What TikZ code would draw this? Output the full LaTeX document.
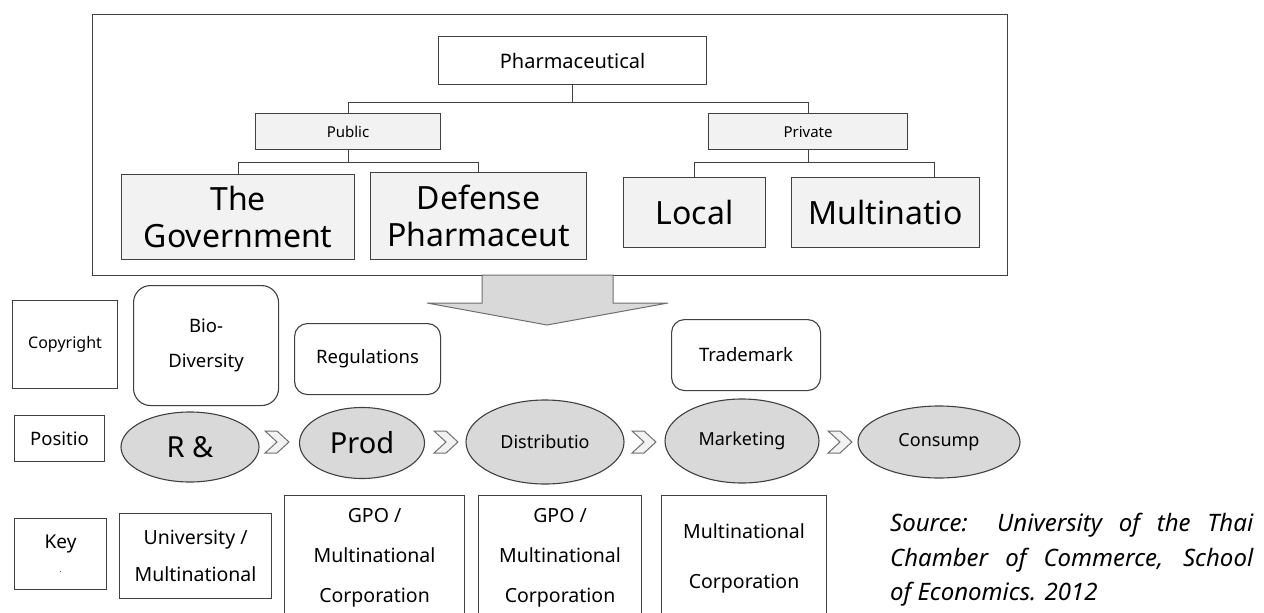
\documentclass[tikz,border=0pt]{standalone}
\usepackage{fontspec}
\setmainfont{Noto Sans}
\usetikzlibrary{shapes.geometric,calc}
\definecolor{bd}{HTML}{404040}
\definecolor{lg}{HTML}{F2F2F2}
\definecolor{eg}{HTML}{D9D9D9}
\definecolor{ag}{HTML}{6F6F6F}
\newcommand{\fsz}[2]{\fontsize{#1}{#2}\selectfont}
\begin{document}
\begin{tikzpicture}[x=1pt,y=-1pt,
  sqbox/.style={draw=bd, line width=1.1pt, fill=white, inner sep=0pt, anchor=north west, align=center},
  grbox/.style={sqbox, fill=lg},
  rbox/.style={sqbox, rounded corners=13pt},
  oval/.style={ellipse, draw=bd, line width=1.1pt, fill=eg, inner sep=0pt, align=center},
  conn/.style={draw=bd, line width=1.1pt},
  chev/.style={draw=ag, fill=lg, line width=1pt, line join=miter},
  srcline/.style={anchor=base west, inner sep=0pt, font=\fsz{24}{28}\itshape}
]
\useasboundingbox (0,0) rectangle (1264,613);

% outer frame
\node[sqbox, line width=1.3pt, minimum width=915, minimum height=261] (frame) at (92,14) {};

% top hierarchy
\node[sqbox, minimum width=268, minimum height=48, font=\fsz{20}{24}] (ph) at (438,36) {Pharmaceutical};
\node[grbox, minimum width=185, minimum height=36, font=\fsz{15}{18}] (pub) at (255,113) {Public};
\node[grbox, minimum width=199, minimum height=36, font=\fsz{15}{18}] (priv) at (708,113) {Private};
\node[grbox, minimum width=233, minimum height=85, font=\fsz{32}{37}] (gov) at (121,174) {The\\Government};
\node[grbox, minimum width=216, minimum height=87, font=\fsz{32}{37}] (def) at (370,172) {Defense\\Pharmaceut};
\node[grbox, minimum width=142, minimum height=70, font=\fsz{32}{37}] (loc) at (623,177) {Local};
\node[grbox, minimum width=188, minimum height=70, font=\fsz{32}{37}] (mul) at (791,177) {Multinatio};

\draw[conn] (ph.south) -- ++(0,17) -| (pub.north);
\draw[conn] (ph.south) -- ++(0,17) -| (priv.north);
\draw[conn] (pub.south) -- ++(0,12) -| (gov.north);
\draw[conn] (pub.south) -- ++(0,12) -| (def.north);
\draw[conn] (priv.south) -- ++(0,12) -| (loc.north);
\draw[conn] (priv.south) -- ++(0,12) -| ([xshift=49pt]mul.north);

% big arrow
\draw[draw=ag, fill=eg, line width=1pt] (482,275) -- (613,275) -- (613,303) -- (668,303) -- (547,325) -- (427,303) -- (482,303) -- cycle;

% upper row
\node[sqbox, minimum width=105, minimum height=88, font=\fsz{16}{19}] (copy) at (12,300) {Copyright};
\node[rbox, rounded corners=17pt, minimum width=145, minimum height=120, font=\fsz{18.5}{35}] (bio) at (133,285) {Bio-\\Diversity};
\node[rbox, minimum width=146, minimum height=71, font=\fsz{18.5}{22}] (reg) at (294,323) {Regulations};
\node[rbox, minimum width=149, minimum height=71, font=\fsz{18.5}{22}] (trade) at (671,319) {Trademark};

% chain row
\node[sqbox, minimum width=90, minimum height=46, font=\fsz{18.5}{22}] (pos) at (14,415) {Positio};
\node[oval, minimum width=138, minimum height=70, font=\fsz{29}{34}] (rd) at (190,447) {R \&};
\node[oval, minimum width=125, minimum height=71, font=\fsz{29}{34}] (prod) at (362,443) {Prod};
\node[oval, minimum width=158, minimum height=84, font=\fsz{18}{22}] (dist) at (545,442) {Distributio};
\node[oval, minimum width=154, minimum height=84, font=\fsz{18}{22}] (mark) at (742,441) {Marketing};
\node[oval, minimum width=162, minimum height=72, font=\fsz{18}{22}] (cons) at (939,442) {Consump};

\foreach \cx in {277,446,644,840}{
  \draw[chev] (\cx-12,431) -- (\cx,431) -- (\cx+12,442) -- (\cx,453) -- (\cx-12,453) -- (\cx,442) -- cycle;
}

% key row
\node[sqbox, minimum width=92, minimum height=71, font=\fsz{19}{30}] (key) at (14,518) {Key\\[-6pt]{\fsz{8}{8}.}};
\node[sqbox, minimum width=152, minimum height=85, font=\fsz{19.5}{37}] (uni) at (119,513) {University /\\Multinational};
\node[sqbox, minimum width=180, minimum height=125, font=\fsz{19.5}{40}] (gpo1) at (284,495) {GPO /\\Multinational\\Corporation};
\node[sqbox, minimum width=163, minimum height=125, font=\fsz{19.5}{40}] (gpo2) at (478,495) {GPO /\\Multinational\\Corporation};
\node[sqbox, minimum width=165, minimum height=125, font=\fsz{19.5}{50}] (mnc) at (661,495) {Multinational\\Corporation};

% source
\node[srcline] (src1) at (890,531) {\makebox[363pt][s]{Source: University of the Thai}};
\node[srcline] (src2) at (890,566) {\makebox[363pt][s]{Chamber of Commerce, School}};
\node[srcline] (src3) at (890,600) {of Economics. 2012};
\end{tikzpicture}
\end{document}
